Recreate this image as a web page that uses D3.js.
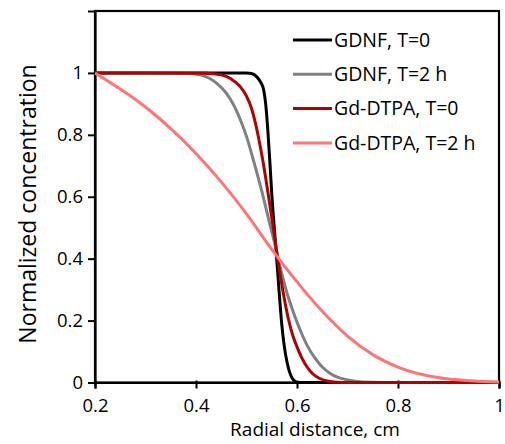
<!DOCTYPE html>
<html>
<head>
<meta charset="utf-8">
<script src="https://cdn.jsdelivr.net/npm/d3@7"></script>
<style>
  body { margin: 0; background: #fff; }
  svg text { font-family: "Open Sans", sans-serif; fill: #000; }
</style>
</head>
<body>
<svg id="plot" width="505" height="444"></svg>
<script>
// radial distance (cm) and normalized concentration
var gdnfT0X = [0.2, 0.3, 0.4, 0.5, 0.51, 0.52, 0.528, 0.534, 0.538, 0.542, 0.546, 0.55, 0.555, 0.56, 0.565, 0.57, 0.575, 0.58, 0.585, 0.59, 0.595, 0.6, 0.7, 0.8, 0.9, 1.0];
var gdnfT0Y = [1.0, 1.0, 1.0, 1.0, 0.998, 0.988, 0.97, 0.945, 0.9, 0.82, 0.72, 0.61, 0.5, 0.395, 0.285, 0.185, 0.115, 0.068, 0.035, 0.015, 0.005, 0.0, 0.0, 0.0, 0.0, 0.0];

var gdnfT2X = [0.2, 0.3, 0.38, 0.41, 0.44, 0.46, 0.475, 0.49, 0.5, 0.515, 0.53, 0.545, 0.555, 0.567, 0.58, 0.59, 0.6, 0.61, 0.62, 0.635, 0.65, 0.665, 0.68, 0.7, 0.73, 0.8, 0.9, 1.0];
var gdnfT2Y = [1.0, 1.0, 0.999, 0.993, 0.968, 0.935, 0.895, 0.84, 0.795, 0.71, 0.62, 0.52, 0.455, 0.37, 0.29, 0.24, 0.195, 0.155, 0.12, 0.08, 0.05, 0.03, 0.017, 0.008, 0.002, 0.0, 0.0, 0.0];

var gdT0X = [0.2, 0.3, 0.42, 0.45, 0.47, 0.488, 0.5, 0.51, 0.524, 0.532, 0.54, 0.547, 0.553, 0.56, 0.567, 0.575, 0.583, 0.592, 0.6, 0.61, 0.62, 0.63, 0.645, 0.66, 0.68, 0.7, 0.8, 0.9, 1.0];
var gdT0Y = [1.0, 1.0, 0.999, 0.994, 0.98, 0.955, 0.925, 0.885, 0.79, 0.72, 0.64, 0.565, 0.5, 0.42, 0.345, 0.27, 0.205, 0.15, 0.115, 0.078, 0.05, 0.03, 0.013, 0.005, 0.001, 0.0, 0.0, 0.0, 0.0];

var gdT2X = [0.2, 0.25, 0.3, 0.35, 0.4, 0.45, 0.5, 0.55, 0.6, 0.65, 0.7, 0.75, 0.8, 0.85, 0.9, 0.95, 1.0];
var gdT2Y = [1.0, 0.948, 0.89, 0.82, 0.74, 0.648, 0.545, 0.43, 0.325, 0.23, 0.15, 0.09, 0.05, 0.025, 0.011, 0.005, 0.002];

var seriesNames = ["GDNF, T=0", "GDNF, T=2 h", "Gd-DTPA, T=0", "Gd-DTPA, T=2 h"];
var seriesColors = ["#000000", "#808080", "#b00000", "#ff7575"];
var xTicks = [0.2, 0.4, 0.6, 0.8, 1];
var yTicks = [0, 0.2, 0.4, 0.6, 0.8, 1];

var svg = d3.select("#plot"),
    margin = {top: 11, right: 6, bottom: 61.5, left: 95},
    width = +svg.attr("width") - margin.left - margin.right,
    height = +svg.attr("height") - margin.top - margin.bottom;

var x = d3.scaleLinear().domain([0.2, 1]).range([0, width]),
    y = d3.scaleLinear().domain([0, 1.2]).range([height, 0]);

var g = svg.append("g")
    .attr("transform", "translate(" + margin.left + "," + margin.top + ")");

// frame round the plot
g.append("rect")
    .attr("width", width)
    .attr("height", height)
    .attr("fill", "none")
    .attr("stroke", "#000")
    .attr("stroke-width", 2.2);

var xAxis = g.append("g")
    .attr("transform", "translate(0," + height + ")")
    .call(d3.axisBottom(x).tickValues(xTicks).tickSize(6).tickPadding(10)
        .tickFormat(function(d) { return d == 1 ? "1" : d3.format(".1f")(d); }));

var yAxis = g.append("g")
    .call(d3.axisLeft(y).tickValues(yTicks).tickSize(7).tickPadding(5)
        .tickFormat(function(d) { return (d == 0 || d == 1) ? d3.format("d")(d) : d3.format(".1f")(d); }));

[xAxis, yAxis].forEach(function(a) {
    a.select(".domain").attr("stroke-width", 2.2);
    a.selectAll(".tick line").attr("stroke-width", 2);
    a.selectAll(".tick text").style("font-size", "18.5px").attr("fill", "#000");
});
xAxis.selectAll(".tick line").attr("y1", -2);

var series = [
    {xs: gdnfT0X, ys: gdnfT0Y},
    {xs: gdnfT2X, ys: gdnfT2Y},
    {xs: gdT0X, ys: gdT0Y},
    {xs: gdT2X, ys: gdT2Y}
];

var line = d3.line()
    .x(function(d) { return x(d[0]); })
    .y(function(d) { return y(d[1]); })
    .curve(d3.curveMonotoneX);

g.append("g").selectAll("path")
    .data(series)
    .enter().append("path")
    .attr("d", function(d) { return line(d3.zip(d.xs, d.ys)); })
    .attr("fill", "none")
    .attr("stroke", function(d, i) { return seriesColors[i]; })
    .attr("stroke-width", 3)
    .attr("stroke-linejoin", "round");

// legend
var legend = g.append("g")
    .attr("transform", "translate(198,29)")
    .selectAll("g")
    .data(seriesNames)
    .enter().append("g")
    .attr("transform", function(d, i) { return "translate(0," + i * 34.3 + ")"; });

legend.append("line")
    .attr("x1", 0).attr("x2", 39)
    .attr("stroke", function(d, i) { return seriesColors[i]; })
    .attr("stroke-width", 3);

legend.append("text")
    .attr("x", 41)
    .attr("dy", "0.35em")
    .style("font-size", "19.5px")
    .text(function(d) { return d; });

// axis titles
svg.append("text")
    .attr("x", 315)
    .attr("y", 436)
    .attr("text-anchor", "middle")
    .style("font-size", "19px")
    .text("Radial distance, cm");

svg.append("text")
    .attr("transform", "translate(36,204) rotate(-90)")
    .attr("text-anchor", "middle")
    .style("font-size", "23px")
    .text("Normalized concentration");
</script>
</body>
</html>
